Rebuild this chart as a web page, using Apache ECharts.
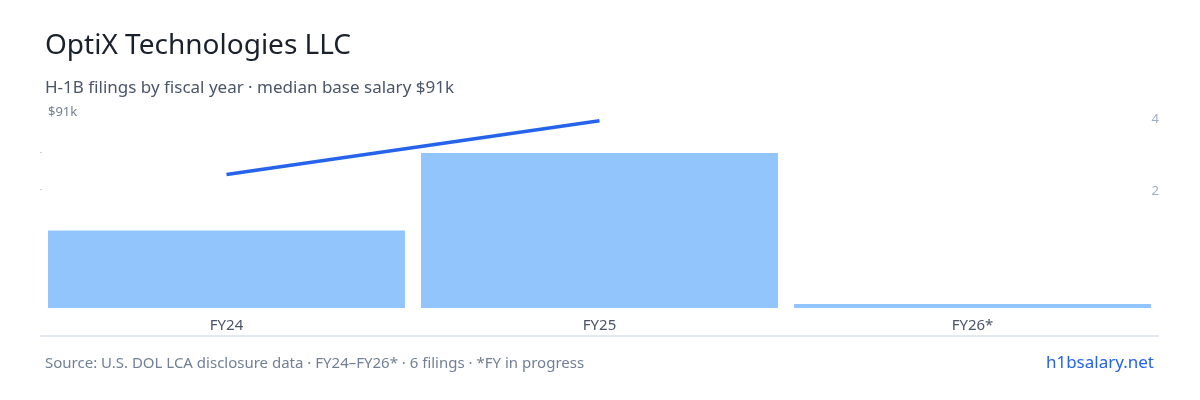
<!DOCTYPE html>
<html><head><meta charset="utf-8">
<script src="https://cdn.jsdelivr.net/npm/echarts@6/dist/echarts.min.js"></script>
<style>html,body{margin:0;padding:0;background:#fff}#c{width:1200px;height:400px}</style>
</head><body><div id="c"></div>
<script>
const categories = ['FY24', 'FY25', 'FY26*'];
const filings = [2, 4, 0];
const salaryK = [76, 90.5, null];
const rightTicks = [2, 4];
const chart = echarts.init(document.getElementById('c'));
const F = "'Noto Sans', 'Open Sans', sans-serif";
chart.setOption({
  animation: false,
  textStyle: { fontFamily: F },
  title: [
    { text: 'OptiX Technologies LLC', left: 40, top: 27, textStyle: { fontFamily: F, fontSize: 28, fontWeight: 'normal', color: '#1a202c' } },
    { text: 'H-1B filings by fiscal year · median base salary $91k', left: 40, top: 75, textStyle: { fontFamily: F, fontSize: 17, fontWeight: 'normal', color: '#4a5568' } },
    { text: 'Source: U.S. DOL LCA disclosure data · FY24–FY26* · 6 filings · *FY in progress', left: 40, top: 351, textStyle: { fontFamily: F, fontSize: 15, fontWeight: 'normal', color: '#718096' } },
    { text: 'h1bsalary.net', right: 41, top: 350, textStyle: { fontFamily: F, fontSize: 17, fontWeight: 'normal', color: '#2563eb' } }
  ],
  graphic: [{ type: 'line', shape: { x1: 40, y1: 336, x2: 1159, y2: 336 }, style: { stroke: '#e2e8f0', lineWidth: 2 } }],
  grid: { left: 40, right: 41, top: 119, bottom: 92 },
  xAxis: {
    type: 'category', data: categories,
    axisLine: { show: false }, axisTick: { show: false },
    axisLabel: { color: '#4a5568', fontSize: 15, margin: 10, fontFamily: F }
  },
  yAxis: [
    { type: 'value', min: 40, max: 91, position: 'left', splitLine: { show: false }, axisLine: { show: false },
      axisTick: { show: true, inside: true, length: 2, lineStyle: { color: '#cbd5e0' }, customValues: [72, 82] },
      axisLabel: { inside: true, customValues: [91], formatter: v => '$' + Math.round(v) + 'k', color: '#718096', fontSize: 13, verticalAlign: 'bottom', fontFamily: F } },
    { type: 'value', min: -1.25, max: 4, position: 'right', splitLine: { show: false }, axisLine: { show: false }, axisTick: { show: false },
      axisLabel: { customValues: rightTicks, color: '#a0aec0', fontSize: 13, margin: 0, align: 'right', fontFamily: F } },
    { type: 'value', min: 0, max: 4.88, show: false }
  ],
  series: [
    { type: 'bar', data: filings, yAxisIndex: 2, barCategoryGap: '4.3%', barMinHeight: 4, itemStyle: { color: '#93c5fd' } },
    { type: 'line', data: salaryK, yAxisIndex: 0, symbol: 'none', lineStyle: { color: '#2563eb', width: 3.5 } }
  ]
});
</script></body></html>
